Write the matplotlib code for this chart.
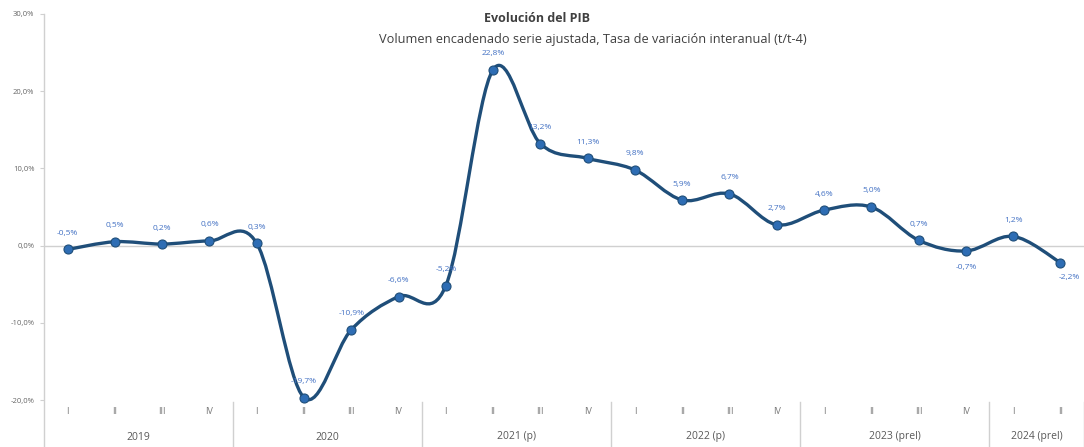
import matplotlib
matplotlib.use("Agg")
import matplotlib.pyplot as plt
from matplotlib.path import Path
from matplotlib.patches import PathPatch
from matplotlib.transforms import blended_transform_factory
import numpy as np

quarters = ["I", "II", "III", "IV", "I", "II", "III", "IV", "I", "II", "III", "IV",
            "I", "II", "III", "IV", "I", "II", "III", "IV", "I", "II"]
years = ["2019", "2020", "2021 (p)", "2022 (p)", "2023 (prel)", "2024 (prel)"]
year_sizes = [4, 4, 4, 4, 4, 2]
values = [-0.5, 0.5, 0.2, 0.6, 0.3, -19.7, -10.9, -6.6, -5.2, 22.8, 13.2, 11.3,
          9.8, 5.9, 6.7, 2.7, 4.6, 5.0, 0.7, -0.7, 1.2, -2.2]
labels = ["-0,5%", "0,5%", "0,2%", "0,6%", "0,3%", "-19,7%", "-10,9%", "-6,6%", "-5,2%",
          "22,8%", "13,2%", "11,3%", "9,8%", "5,9%", "6,7%", "2,7%", "4,6%", "5,0%",
          "0,7%", "-0,7%", "1,2%", "-2,2%"]
yticks = [-20, -10, 0, 10, 20, 30]
ytick_labels = ["-20,0%", "-10,0%", "0,0%", "10,0%", "20,0%", "30,0%"]

plt.rcParams['font.family'] = ['Open Sans', 'DejaVu Sans']

W, H = 1084, 447
fig = plt.figure(figsize=(W / 100, H / 100), dpi=100)
ax = fig.add_axes([44 / W, 1 - 400 / H, 1 - 44 / W, (400 - 14) / H])

n = len(values)
x = np.arange(n, dtype=float)
y = np.array(values, dtype=float)

# smoothed line (Excel-like) via cubic Bezier segments
verts = [(x[0], y[0])]
codes = [Path.MOVETO]
for i in range(n - 1):
    p0 = np.array([x[i - 1], y[i - 1]]) if i > 0 else np.array([x[i], y[i]])
    p1 = np.array([x[i], y[i]])
    p2 = np.array([x[i + 1], y[i + 1]])
    p3 = np.array([x[i + 2], y[i + 2]]) if i + 2 < n else p2
    c1 = p1 + (p2 - p0) / 6.0
    c2 = p2 - (p3 - p1) / 6.0
    verts += [tuple(c1), tuple(c2), tuple(p2)]
    codes += [Path.CURVE4, Path.CURVE4, Path.CURVE4]
path = Path(verts, codes)
ax.add_patch(PathPatch(path, facecolor="none", edgecolor="#1F4E79", lw=2.4,
                       clip_on=False, zorder=3, capstyle="round", joinstyle="round"))
ax.plot(x, y, linestyle="none", marker="o", ms=6.5, color="#2E6DB4",
        markeredgecolor="#1F4E79", markeredgewidth=0.8, zorder=4, clip_on=False)

below = {19: (0, -16), 21: (9, -15)}
for i, (v, lab) in enumerate(zip(values, labels)):
    dx, dy = below.get(i, (0, 16))
    ax.annotate(lab, (x[i], v), xytext=(dx, dy), textcoords="offset pixels",
                ha="center", va="center", fontsize=6, color="#4472C4", zorder=5)

ax.set_xlim(-0.5, n - 0.5)
ax.set_ylim(-20, 30)
ax.axhline(0, color="#D0D0D0", lw=1.0, zorder=1)

for s in ["top", "right", "bottom", "left"]:
    ax.spines[s].set_visible(False)
ax.set_yticks(yticks)
ax.set_yticklabels(ytick_labels, fontsize=5.5, color="#666666")
ax.tick_params(axis="y", length=3, color="#D0D0D0", pad=4)
ax.set_xticks([])

tr = blended_transform_factory(ax.transData, fig.transFigure)
ax.plot([-0.5, -0.5], [0, 1 - 14 / H], transform=tr, color="#D0D0D0", lw=1.0, clip_on=False)

for i, q in enumerate(quarters):
    ax.text(x[i], 1 - 412 / H, q, transform=tr, ha="center", va="center",
            fontsize=6.5, color="#777777")

start = 0
for yr, sz in zip(years, year_sizes):
    center = start + (sz - 1) / 2.0
    ax.text(center, 1 - 437 / H, yr, transform=tr, ha="center", va="center",
            fontsize=7.5, color="#595959")
    end = start + sz - 0.5
    ax.plot([end, end], [0, 1 - 402 / H], transform=tr, color="#D0D0D0", lw=1.0, clip_on=False)
    start += sz

fig.text(537 / W, 1 - 18 / H, "Evolución del PIB", ha="center", va="center",
         fontsize=9, fontweight="bold", color="#404040")
fig.text(593 / W, 1 - 40 / H, "Volumen encadenado serie ajustada, Tasa de variación interanual (t/t-4)",
         ha="center", va="center", fontsize=9.2, color="#404040")

fig.savefig("out.png", dpi=100)
